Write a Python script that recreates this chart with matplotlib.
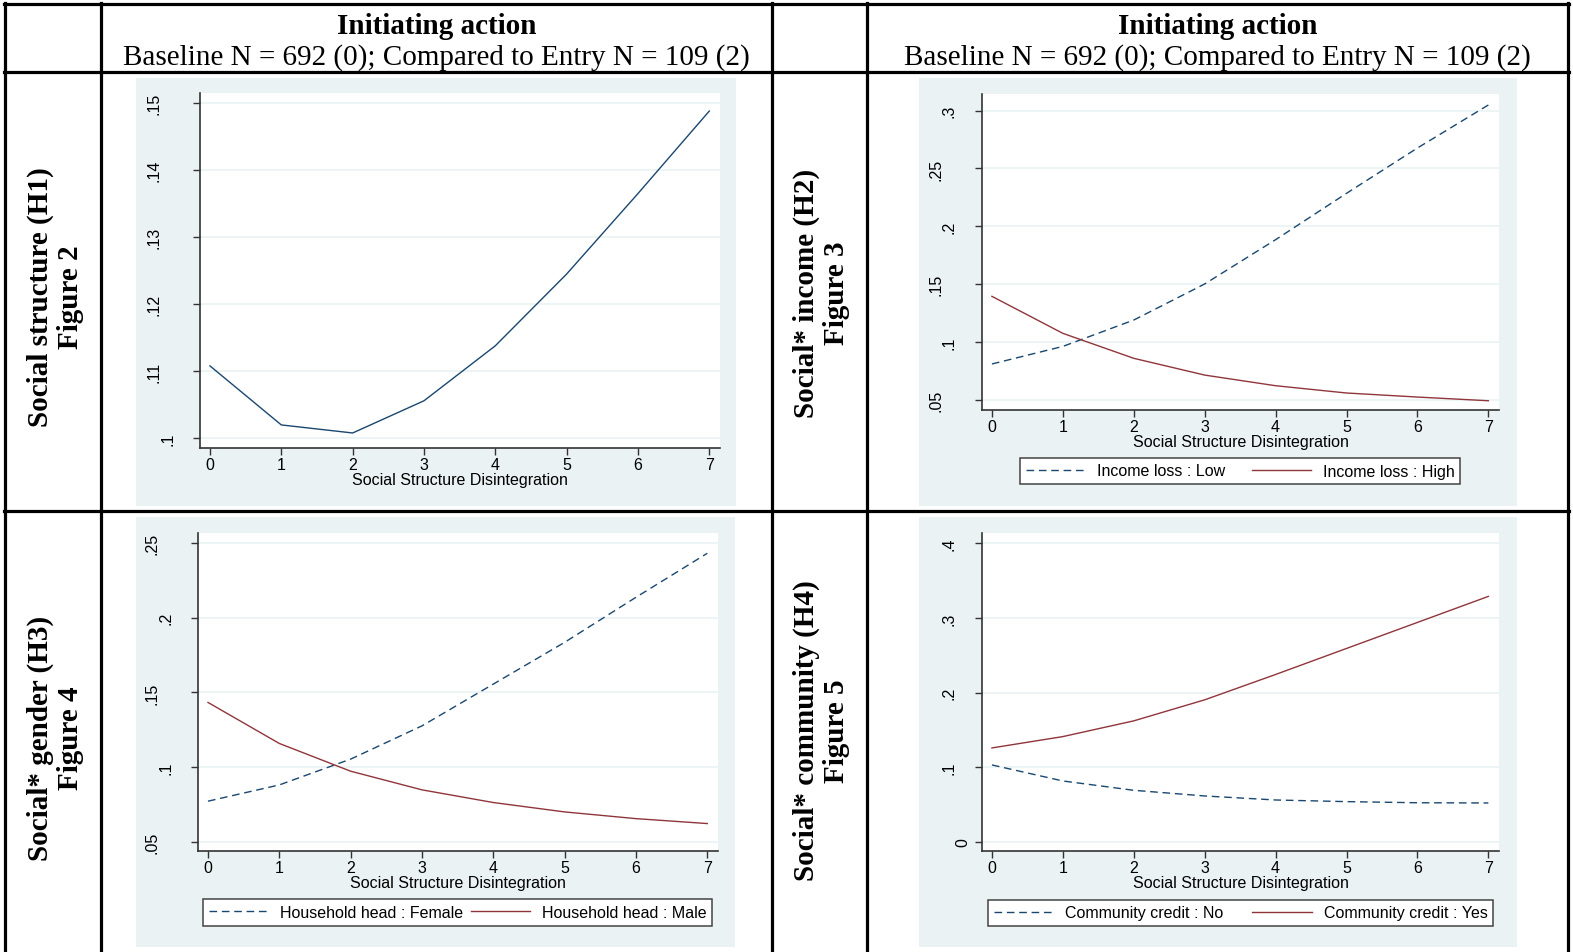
import matplotlib
matplotlib.use("Agg")
import matplotlib.pyplot as plt
from matplotlib.lines import Line2D
from matplotlib.patches import Rectangle
from matplotlib.transforms import blended_transform_factory, ScaledTranslation

# ---------------- data ----------------
x_vals = [0, 1, 2, 3, 4, 5, 6, 7]
x_label = "Social Structure Disintegration"

# Panel 1 (H1)
h1_prob = [0.1108, 0.1020, 0.1008, 0.1056, 0.1138, 0.1245, 0.1365, 0.1488]
h1_yticks = [0.10, 0.11, 0.12, 0.13, 0.14, 0.15]
h1_yticklabels = [".1", ".11", ".12", ".13", ".14", ".15"]

# Panel 2 (H2)
h2_low = [0.0809, 0.0961, 0.1189, 0.1501, 0.1884, 0.2285, 0.2677, 0.3049]
h2_high = [0.1394, 0.1074, 0.0858, 0.0713, 0.0621, 0.0558, 0.0523, 0.0491]
h2_labels = ["Income loss : Low", "Income loss : High"]
h2_yticks = [0.05, 0.10, 0.15, 0.20, 0.25, 0.30]
h2_yticklabels = [".05", ".1", ".15", ".2", ".25", ".3"]

# Panel 3 (H3)
h3_female = [0.0771, 0.0880, 0.1053, 0.1276, 0.1556, 0.1836, 0.2138, 0.2433]
h3_male = [0.1433, 0.1158, 0.0972, 0.0847, 0.0762, 0.0699, 0.0654, 0.0621]
h3_labels = ["Household head : Female", "Household head : Male"]
h3_yticks = [0.05, 0.10, 0.15, 0.20, 0.25]
h3_yticklabels = [".05", ".1", ".15", ".2", ".25"]

# Panel 4 (H4)
h4_no = [0.1029, 0.0814, 0.0689, 0.0613, 0.0559, 0.0537, 0.0522, 0.0519]
h4_yes = [0.1257, 0.1409, 0.1620, 0.1902, 0.2242, 0.2591, 0.2940, 0.3289]
h4_labels = ["Community credit : No", "Community credit : Yes"]
h4_yticks = [0.0, 0.1, 0.2, 0.3, 0.4]
h4_yticklabels = ["0", ".1", ".2", ".3", ".4"]

header_title = "Initiating action"
header_sub = "Baseline N = 692 (0); Compared to Entry N = 109 (2)"
row_labels = ["Social structure (H1)\nFigure 2", "Social* income (H2)\nFigure 3",
              "Social* gender (H3)\nFigure 4", "Social* community (H4)\nFigure 5"]

# ---------------- style ----------------
W, H = 1573, 953
NAVY = "#1a476f"
MAROON = "#90353b"
BG = "#eaf2f3"
AXC = "#333333"
SANS = "Liberation Sans"
SERIF = "Liberation Serif"
FS = 11.5
DASH = (5.5, 3.4)

fig = plt.figure(figsize=(W / 100, H / 100), dpi=100)
fig.patch.set_facecolor("white")


def rect(x0, y0, x1, y1):
    return [x0 / W, 1 - y1 / H, (x1 - x0) / W, (y1 - y0) / H]


def fx(x):
    return x / W


def fy(y):
    return 1 - y / H


# table lines
lw_tab = 2.3
for yy in [5, 73, 512]:
    fig.add_artist(Line2D([fx(4), fx(1569)], [fy(yy), fy(yy)], color="black",
                          lw=lw_tab, transform=fig.transFigure))
for xx in [5, 101, 772, 867, 1568]:
    fig.add_artist(Line2D([fx(xx), fx(xx)], [fy(4), fy(960)], color="black",
                          lw=lw_tab, transform=fig.transFigure))

# header
for cx in [436.5, 1217.5]:
    fig.text(fx(cx), fy(26), header_title, ha="center", va="center",
             fontsize=21, fontweight="bold", family=SERIF)
    fig.text(fx(cx), fy(58), header_sub, ha="center", va="center",
             fontsize=21, family=SERIF)

# row labels
row_pos = [(55, 297), (821, 293), (55, 738), (821, 731)]
for (cx, cy), lab in zip(row_pos, row_labels):
    fig.text(fx(cx), fy(cy), lab, ha="center", va="center", rotation=90,
             fontsize=21, fontweight="bold", family=SERIF,
             multialignment="center", linespacing=1.13)


def make_panel(bg, axr, xlim, ylim, yticks, yticklabels, xlab_pad):
    fig.add_artist(Rectangle((fx(bg[0]), fy(bg[3])), (bg[2] - bg[0]) / W,
                             (bg[3] - bg[1]) / H, transform=fig.transFigure,
                             facecolor=BG, edgecolor="none", zorder=0))
    ax = fig.add_axes(rect(*axr))
    ax.set_facecolor("white")
    ax.set_xlim(*xlim)
    ax.set_ylim(*ylim)
    for s in ["top", "right"]:
        ax.spines[s].set_visible(False)
    for s in ["left", "bottom"]:
        ax.spines[s].set_color(AXC)
        ax.spines[s].set_linewidth(1.2)
    ax.set_xticks(x_vals)
    ax.set_xticklabels([str(v) for v in x_vals], fontsize=FS, family=SANS)
    ax.set_yticks(yticks)
    ax.set_yticklabels([])
    ax.tick_params(axis="both", direction="out", length=5, width=1.0, color=AXC,
                   pad=1.5)
    ax.yaxis.grid(True, color=BG, lw=1.2)
    ax.set_axisbelow(True)
    ax.set_xlabel(x_label, fontsize=FS, family=SANS, labelpad=xlab_pad)
    tr = blended_transform_factory(ax.transAxes, ax.transData)
    for v, lab in zip(yticks, yticklabels):
        off = (5.5 + 13.5 * len(lab)) / 100.0
        ax.text(0, v, lab, transform=tr + ScaledTranslation(-off, 0, fig.dpi_scale_trans),
                rotation=90, ha="center", va="center", fontsize=FS, family=SANS)
    return ax


def add_legend(ax, box, labels):
    handles = [Line2D([], [], color=NAVY, lw=1.0, dashes=DASH),
               Line2D([], [], color=MAROON, lw=1.0)]
    leg = ax.legend(handles, labels, ncol=2, loc="center",
                    bbox_to_anchor=rect(*box), bbox_transform=fig.transFigure,
                    mode="expand", borderaxespad=0, fancybox=False,
                    edgecolor="#444444", framealpha=1, handlelength=3.7,
                    handletextpad=0.75, prop={"family": SANS, "size": FS},
                    borderpad=0.35, columnspacing=1.5)
    leg.get_frame().set_linewidth(1.1)
    return leg


XLIM = (-0.14, 7.15)

# Panel 1
ax1 = make_panel((136, 79, 736, 507), (200, 94, 720, 449), XLIM,
                 (0.09856, 0.15149), h1_yticks, h1_yticklabels, 0)
ax1.plot(x_vals, h1_prob, color=NAVY, lw=1.0)

# Panel 2
ax2 = make_panel((919, 79, 1517, 507), (982, 95, 1499, 411), XLIM,
                 (0.0411, 0.3144), h2_yticks, h2_yticklabels, 0)
ax2.plot(x_vals, h2_low, color=NAVY, lw=1.0, dashes=DASH)
ax2.plot(x_vals, h2_high, color=MAROON, lw=1.0)
add_legend(ax2, (1020, 458, 1460, 486), h2_labels)

# Panel 3
ax3 = make_panel((136, 518, 735, 948), (198, 534, 718, 852), XLIM,
                 (0.0437, 0.2569), h3_yticks, h3_yticklabels, 0)
ax3.plot(x_vals, h3_female, color=NAVY, lw=1.0, dashes=DASH)
ax3.plot(x_vals, h3_male, color=MAROON, lw=1.0)
add_legend(ax3, (203, 900, 712, 927), h3_labels)

# Panel 4
ax4 = make_panel((919, 518, 1517, 948), (982, 534, 1499, 852), XLIM,
                 (-0.0125, 0.4139), h4_yticks, h4_yticklabels, 0)
ax4.plot(x_vals, h4_no, color=NAVY, lw=1.0, dashes=DASH)
ax4.plot(x_vals, h4_yes, color=MAROON, lw=1.0)
add_legend(ax4, (988, 901, 1493, 927), h4_labels)

fig.savefig("out.png", dpi=100, facecolor="white")
